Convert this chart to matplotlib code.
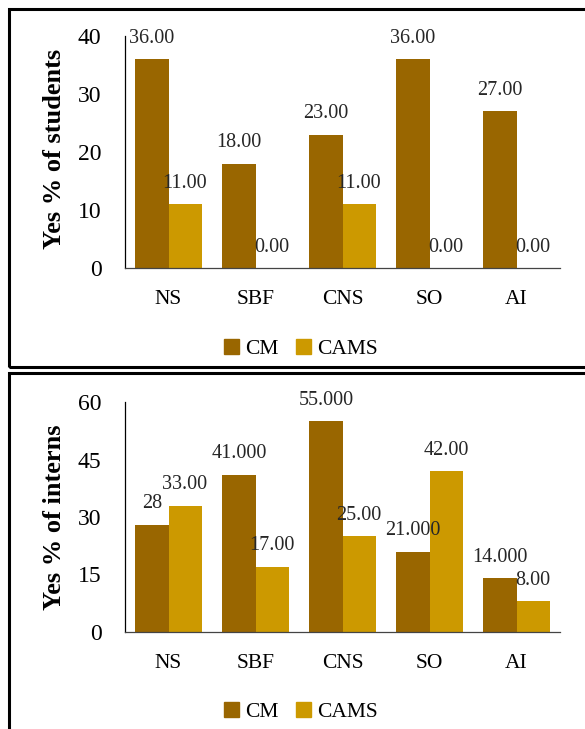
import matplotlib
matplotlib.use('Agg')
import matplotlib.pyplot as plt
from matplotlib.patches import Rectangle, Patch
import numpy as np

# Data
categories = ['NS', 'SBF', 'CNS', 'SO', 'AI']

students_cm = [36, 18, 23, 36, 27]
students_cams = [11, 0, 11, 0, 0]
students_cm_labels = ['36.00', '18.00', '23.00', '36.00', '27.00']
students_cams_labels = ['11.00', '0.00', '11.00', '0.00', '0.00']

interns_cm = [28, 41, 55, 21, 14]
interns_cams = [33, 17, 25, 42, 8]
interns_cm_labels = ['28', '41.000', '55.000', '21.000', '14.000']
interns_cams_labels = ['33.00', '17.00', '25.00', '42.00', '8.00']

CM_COLOR = '#996600'
CAMS_COLOR = '#CC9900'

plt.rcParams['font.family'] = ['Liberation Serif', 'DejaVu Serif']

W, H = 585, 729
fig = plt.figure(figsize=(W / 100, H / 100), dpi=100)


def px_box(left, top, right, bottom):
    """Convert pixel box to figure fraction [l, b, w, h]"""
    return [left / W, 1 - bottom / H, (right - left) / W, (bottom - top) / H]


def draw_panel(box, cm, cams, cm_labels, cams_labels, ymax, yticks, ylabel, ylabel_y, legend_y):
    ax = fig.add_axes(box)
    x = np.arange(len(categories))
    width = 0.38
    ax.bar(x - width / 2, cm, width, color=CM_COLOR, zorder=2)
    ax.bar(x + width / 2, cams, width, color=CAMS_COLOR, zorder=2)

    # Value labels above the bars
    for xi, v, lab in zip(x, cm, cm_labels):
        ax.annotate(lab, (xi - width / 2, v), xytext=(0, 15), textcoords='offset points',
                    ha='center', va='center', fontsize=14.5, color='#262626')
    for xi, v, lab in zip(x, cams, cams_labels):
        ax.annotate(lab, (xi + width / 2, v), xytext=(0, 15), textcoords='offset points',
                    ha='center', va='center', fontsize=14.5, color='#262626')

    ax.set_xlim(-0.5, len(categories) - 0.5)
    ax.set_ylim(0, ymax)
    ax.set_yticks(yticks)
    ax.set_xticks(x)
    ax.set_xticklabels(categories)
    ax.tick_params(axis='y', length=0, pad=17, labelsize=17)
    ax.tick_params(axis='x', length=0, pad=16, labelsize=15.5)

    for s in ['top', 'right']:
        ax.spines[s].set_visible(False)
    ax.spines['left'].set_linewidth(0.9)
    ax.spines['bottom'].set_color('#444444')
    ax.spines['bottom'].set_linewidth(0.9)

    fig.text(55 / W, 1 - ylabel_y / H, ylabel, rotation=90, ha='center', va='center',
             fontsize=19, fontweight='bold')

    handles = [Patch(color=CM_COLOR, label='CM'), Patch(color=CAMS_COLOR, label='CAMS')]
    fig.legend(handles=handles, loc='center', bbox_to_anchor=(301 / W, 1 - legend_y / H),
               ncol=2, frameon=False, fontsize=15.5, handlelength=0.7, handleheight=0.7,
               handletextpad=0.3, columnspacing=0.8)


draw_panel(px_box(125, 36, 560, 268), students_cm, students_cams,
           students_cm_labels, students_cams_labels, 40, [0, 10, 20, 30, 40],
           'Yes % of students', 149, 349)
draw_panel(px_box(125, 402, 560, 632), interns_cm, interns_cams,
           interns_cm_labels, interns_cams_labels, 60, [0, 15, 30, 45, 60],
           'Yes % of interns', 517, 712)

# Panel borders (right side runs off the picture)
for top, bottom in [(9, 367), (373, 740)]:
    fig.add_artist(Rectangle((9 / W, 1 - bottom / H), (W + 20) / W, (bottom - top) / H,
                             transform=fig.transFigure, fill=False, edgecolor='black',
                             linewidth=2.2, clip_on=False))

fig.savefig('out.png', dpi=100)
